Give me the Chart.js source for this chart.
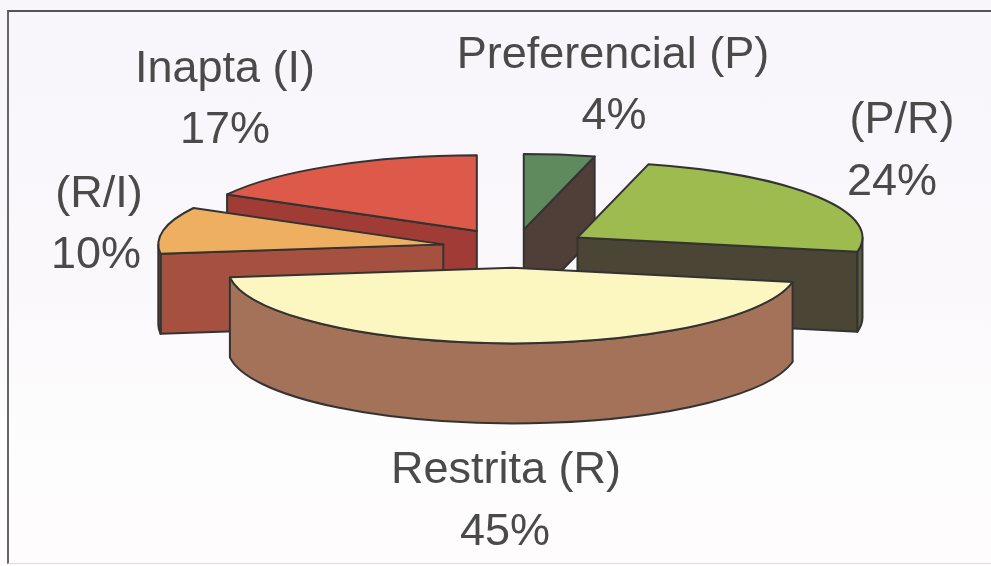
<!DOCTYPE html>
<html lang="pt">
<head>
<meta charset="utf-8">
<title>Aptidão</title>
<script src="https://cdn.jsdelivr.net/npm/chart.js@4/dist/chart.umd.js"></script>
<style>
  html, body { margin: 0; padding: 0; width: 991px; height: 566px; overflow: hidden; }
  body { background: linear-gradient(#f8f6fb 0%, #faf8fb 50%, #fefdfd 80%, #fefcfc 100%); }
  #frame { position: absolute; left: 7px; top: 10px; width: 984px; height: 554px;
           border-top: 2px solid #555; border-left: 2px solid #666; border-bottom: 1px solid #ddd; box-sizing: border-box; }
  canvas { position: absolute; left: 0; top: 0; }
</style>
</head>
<body>
<div id="frame"></div>
<canvas id="chart" width="991" height="566"></canvas>
<script>
// ---------------- DATA ----------------
const categories = ["Preferencial (P)", "(P/R)", "Restrita (R)", "(R/I)", "Inapta (I)"];
const percentages = [4, 24, 45, 10, 17];

// ---------------- STYLE ----------------
const topColors = ["#5f8a5e", "#9dbb4f", "#fcf7c0", "#eeb060", "#dd5a4a"];
const sideColors = ["#4f3f38", "#4a4535", "#a57560", "#a65040", "#a03c35"];
const rimColors = ["#4f3f38", "#5a5c40", "#a37259", "#a65040", "#a03c35"];
const explode = [70, 74, 75, 73, 75];
const drawOrder = [4, 3, 0, 1, 2]; // back to front
const labelSpots = [[613, 68, 614, 129], [902, 133, 892, 195], [506, 483, 505, 545], [99, 207, 96, 268], [225, 82, 225, 143]];

const pieX = 515, pieY = 248;
const pieRadius = 285, squash = 0.265, depth = 80;
const edgeColor = "#333333";

// ---------------- 3D PIE PLUGIN ----------------
const pie3d = {
  id: "pie3d",
  beforeDatasetsDraw(chart) {
    const ctx = chart.ctx;
    const arcs = chart.getDatasetMeta(0).data;
    ctx.save();
    ctx.lineWidth = 2;
    ctx.lineJoin = "round";
    ctx.strokeStyle = edgeColor;

    drawOrder.forEach(function (i) {
      const arc = arcs[i];
      const a0 = arc.startAngle, a1 = arc.endAngle;
      const mid = (a0 + a1) / 2;
      const r = arc.outerRadius, ry = r * squash;
      const ax = pieX + Math.cos(mid) * explode[i];
      const ay = pieY + Math.sin(mid) * explode[i] * squash;
      const px = function (a) { return ax + Math.cos(a) * r; };
      const py = function (a) { return ay + Math.sin(a) * ry; };

      // flat side faces
      const face = function (a) {
        ctx.beginPath();
        ctx.moveTo(ax, ay);
        ctx.lineTo(px(a), py(a));
        ctx.lineTo(px(a), py(a) + depth);
        ctx.lineTo(ax, ay + depth);
        ctx.closePath();
        ctx.fillStyle = sideColors[i];
        ctx.fill();
        ctx.stroke();
      };
      if (Math.cos(a0) < -0.01) face(a0);
      if (Math.cos(a1) > 0.01) face(a1);

      // outer rim, only the part facing us
      const from = Math.max(a0, 0), to = Math.min(a1, Math.PI);
      if (to > from) {
        ctx.beginPath();
        ctx.ellipse(ax, ay, r, ry, 0, from, to);
        ctx.ellipse(ax, ay + depth, r, ry, 0, to, from, true);
        ctx.closePath();
        ctx.fillStyle = rimColors[i];
        ctx.fill();
        ctx.stroke();
      }

      // top face comes from the library arc
      ctx.save();
      ctx.translate(ax, ay);
      ctx.scale(1, squash);
      ctx.translate(-arc.x, -arc.y);
      arc.draw(ctx);
      ctx.restore();

      ctx.beginPath();
      ctx.moveTo(ax, ay);
      ctx.ellipse(ax, ay, r, ry, 0, a0, a1);
      ctx.closePath();
      ctx.stroke();
    });
    ctx.restore();
    return false; // already drawn
  },
  afterDraw(chart) {
    const ctx = chart.ctx;
    ctx.save();
    ctx.fillStyle = "#4a4a4a";
    ctx.font = "45px 'Liberation Sans', Arial, sans-serif";
    ctx.textAlign = "center";
    ctx.textBaseline = "alphabetic";
    categories.forEach(function (name, i) {
      const spot = labelSpots[i];
      ctx.fillText(name, spot[0], spot[1]);
      ctx.fillText(percentages[i] + "%", spot[2], spot[3]);
    });
    ctx.restore();
  }
};

// ---------------- CHART ----------------
new Chart(document.getElementById("chart").getContext("2d"), {
  type: "pie",
  data: {
    labels: categories,
    datasets: [{
      data: percentages,
      backgroundColor: topColors,
      borderWidth: 0,
      radius: pieRadius
    }]
  },
  options: {
    responsive: false,
    animation: false,
    plugins: {
      legend: { display: false },
      tooltip: { enabled: false }
    }
  },
  plugins: [pie3d]
});
</script>
</body>
</html>
